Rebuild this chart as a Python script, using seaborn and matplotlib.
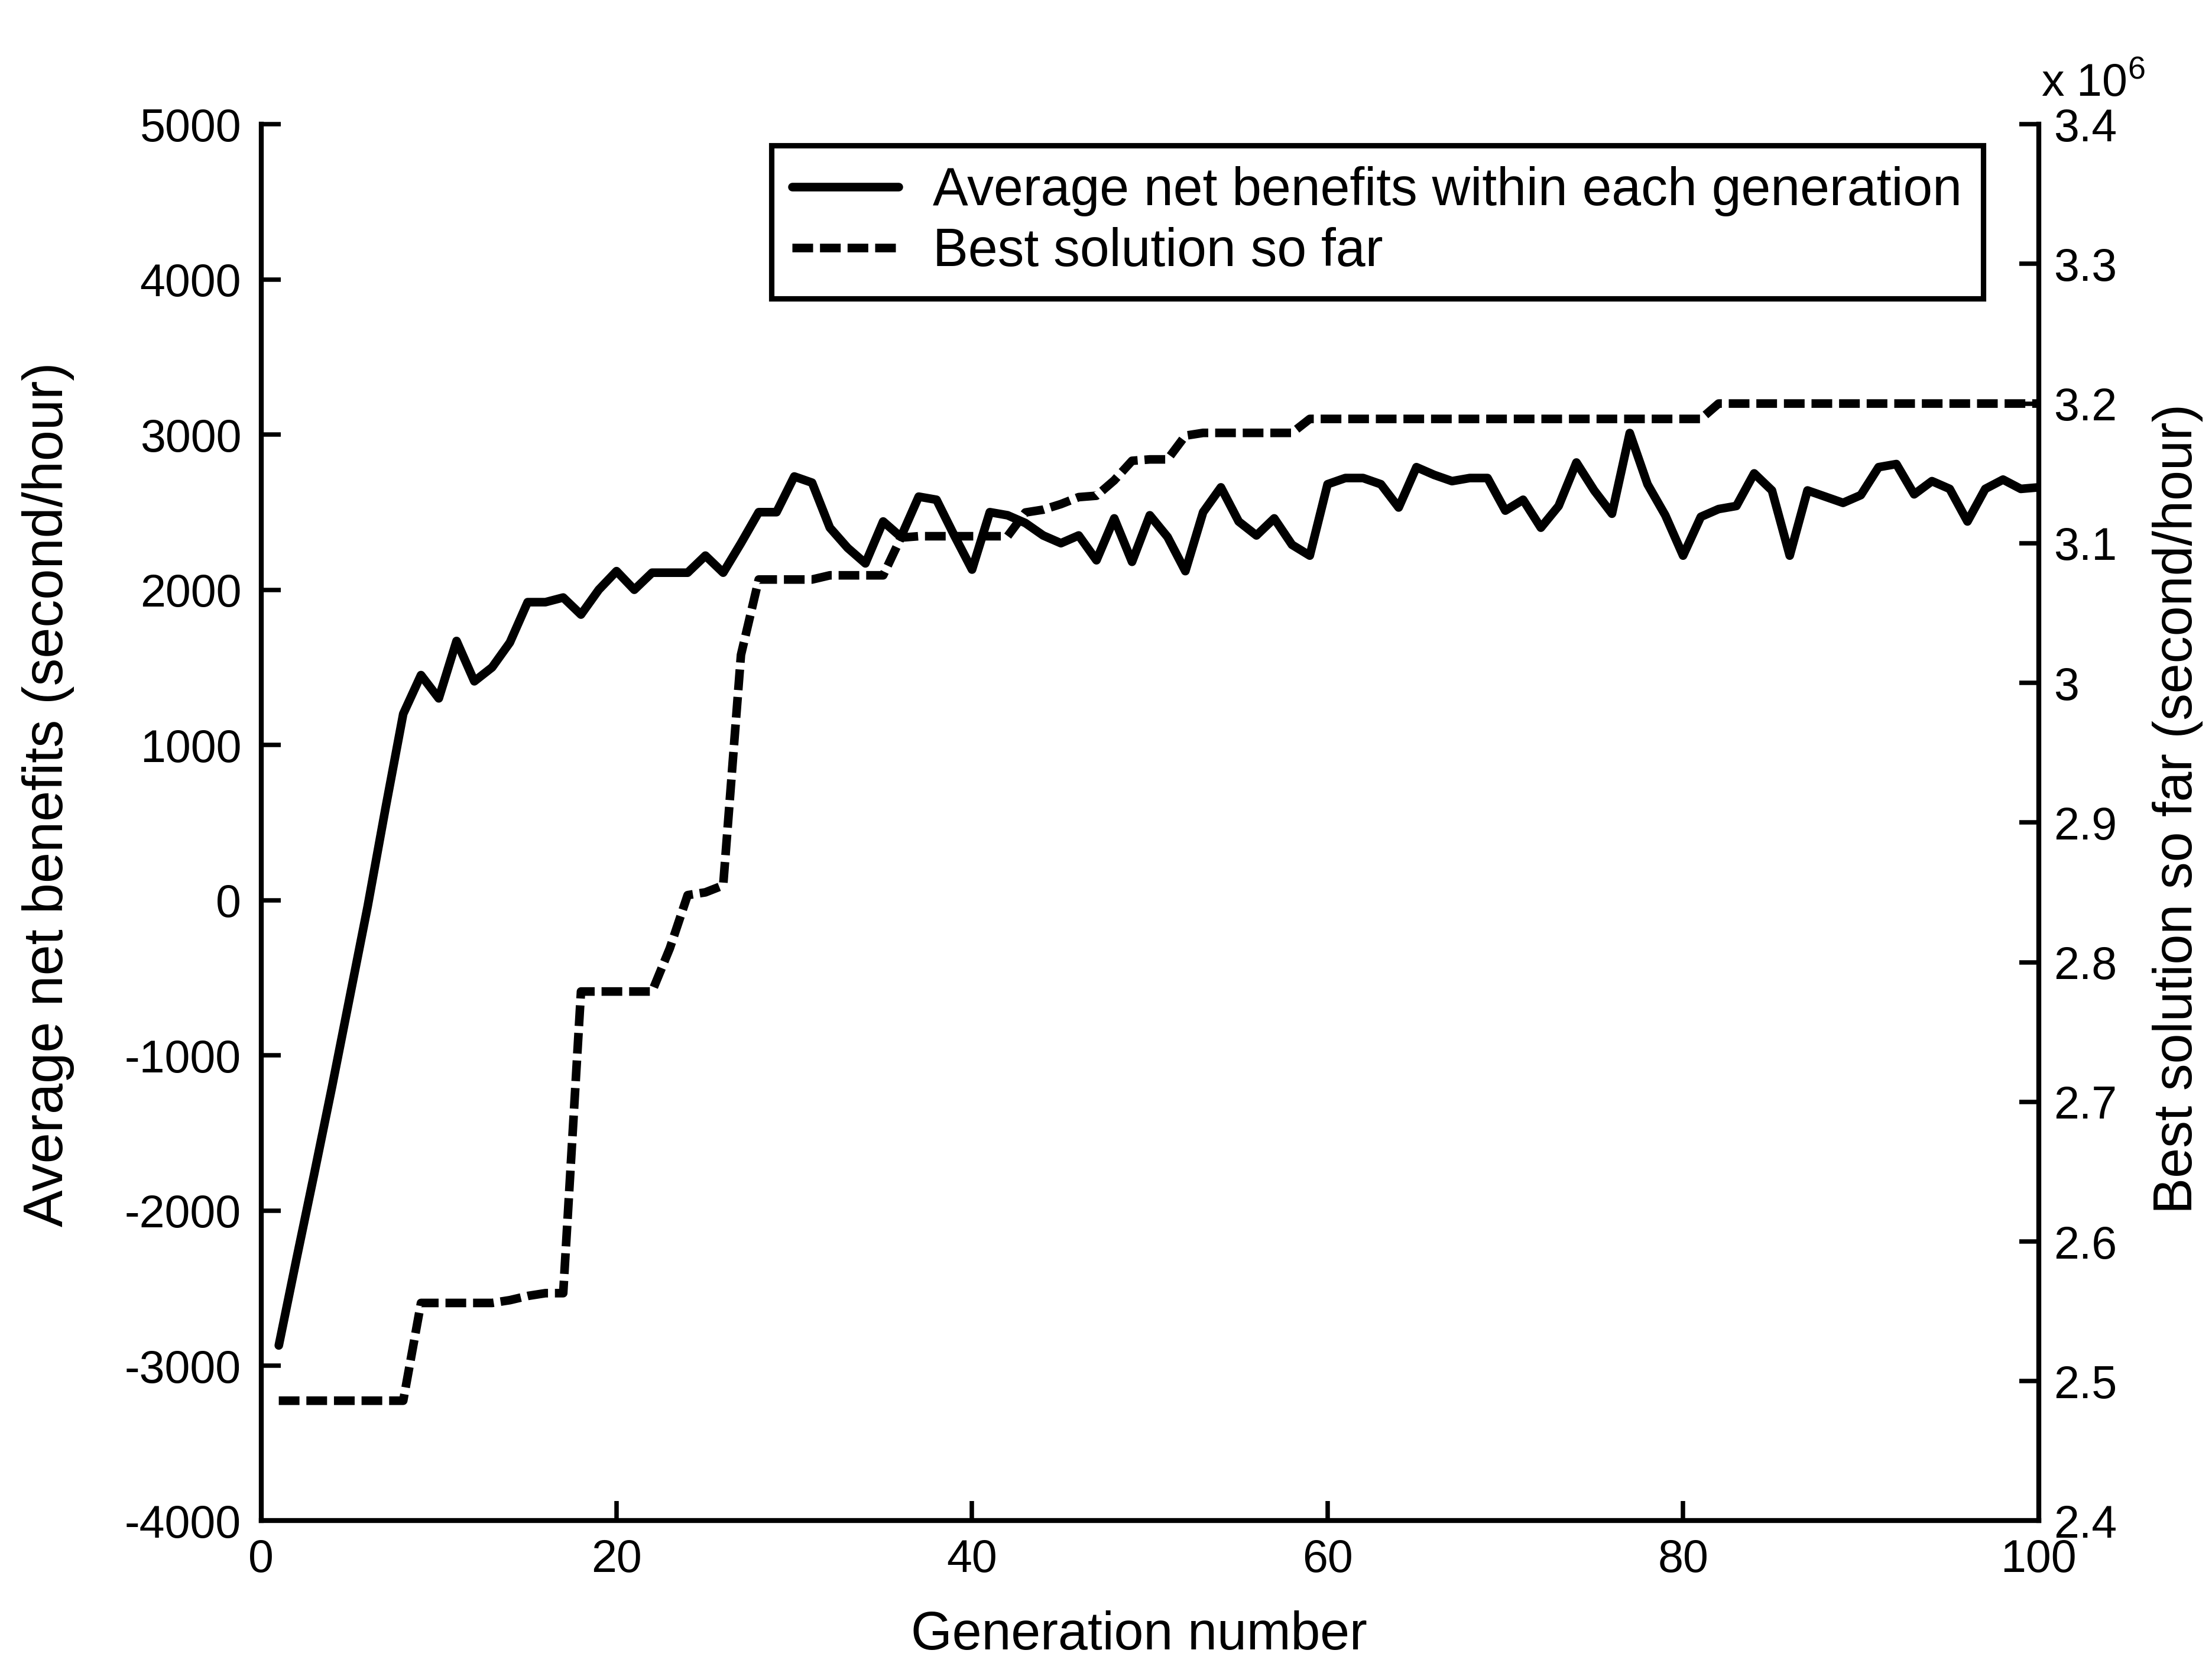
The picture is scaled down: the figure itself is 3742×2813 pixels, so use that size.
import matplotlib
matplotlib.use("Agg")
import matplotlib.pyplot as plt
import numpy as np
import pandas as pd
import seaborn as sns
from matplotlib.ticker import FuncFormatter, MultipleLocator

# ---------------- data ----------------
generations = list(range(1, 101))

avg_net_benefit = [
    -2870, -2310, -1760, -1200, -620, -40, 590, 1200, 1450, 1300,
    1670, 1410, 1500, 1660, 1920, 1920, 1950, 1840, 2000, 2120,
    2000, 2110, 2110, 2110, 2220, 2110, 2300, 2500, 2500, 2730,
    2690, 2400, 2270, 2170, 2440, 2340, 2600, 2580, 2350, 2130,
    2500, 2480, 2430, 2350, 2300, 2350, 2190, 2460, 2180, 2480,
    2340, 2120, 2500, 2660, 2440, 2350, 2460, 2290, 2220, 2680,
    2720, 2720, 2680, 2530, 2790, 2740, 2700, 2720, 2720, 2510,
    2580, 2400, 2540, 2820, 2640, 2490, 3010, 2680, 2480, 2220,
    2470, 2520, 2540, 2750, 2640, 2220, 2640, 2600, 2560, 2610,
    2790, 2810, 2615, 2700, 2650, 2440, 2650, 2710, 2650, 2660,
]

# best solution so far, in units of 10^6
best_so_far_e6 = [
    2.486, 2.486, 2.486, 2.486, 2.486, 2.486, 2.486, 2.486, 2.556, 2.556,
    2.556, 2.556, 2.556, 2.558, 2.561, 2.563, 2.563, 2.779, 2.779, 2.779,
    2.779, 2.779, 2.810, 2.848, 2.850, 2.855, 3.020, 3.074, 3.074, 3.074,
    3.074, 3.077, 3.077, 3.077, 3.077, 3.104, 3.105, 3.105, 3.105, 3.105,
    3.105, 3.105, 3.122, 3.124, 3.128, 3.133, 3.134, 3.145, 3.159, 3.160,
    3.160, 3.177, 3.179, 3.179, 3.179, 3.179, 3.179, 3.179, 3.189, 3.189,
    3.189, 3.189, 3.189, 3.189, 3.189, 3.189, 3.189, 3.189, 3.189, 3.189,
    3.189, 3.189, 3.189, 3.189, 3.189, 3.189, 3.189, 3.189, 3.189, 3.189,
    3.189, 3.200, 3.200, 3.200, 3.200, 3.200, 3.200, 3.200, 3.200, 3.200,
    3.200, 3.200, 3.200, 3.200, 3.200, 3.200, 3.200, 3.200, 3.200, 3.200,
]

label_avg = "Average net benefits within each generation"
label_best = "Best solution so far"
x_label = "Generation number"
y_label_left = "Average net benefits (second/hour)"
y_label_right = "Best solution so far (second/hour)"

# ---------------- style ----------------
sns.set_theme(style="ticks")
plt.rcParams["font.family"] = ["Liberation Sans", "DejaVu Sans"]
plt.rcParams["axes.unicode_minus"] = False
plt.rcParams["mathtext.fontset"] = "custom"
plt.rcParams["mathtext.rm"] = "Liberation Sans"
plt.rcParams["mathtext.it"] = "Liberation Sans"

df = pd.DataFrame({
    "generation": generations,
    "avg": avg_net_benefit,
    "best": best_so_far_e6,
})

fig = plt.figure(figsize=(3742 / 300, 2813 / 300), dpi=300)
fig.patch.set_facecolor("white")
ax = fig.add_axes([0.118, 0.0855, 0.8036, 0.8398])
ax2 = ax.twinx()

LW = 3.5
sns.lineplot(data=df, x="generation", y="avg", ax=ax, color="black",
             linewidth=LW, label=label_avg, legend=False)
sns.lineplot(data=df, x="generation", y="best", ax=ax2, color="black",
             linewidth=LW, linestyle=(0, (2.4, 0.8)), label=label_best,
             legend=False)
for ln in ax2.lines:
    ln.set_dash_capstyle("butt")

# ---------------- axes ----------------
ax.set_xlim(0, 100)
ax.set_ylim(-4000, 5000)
ax2.set_ylim(2.4, 3.4)
ax.xaxis.set_major_locator(MultipleLocator(20))
ax.yaxis.set_major_locator(MultipleLocator(1000))
ax2.yaxis.set_major_locator(MultipleLocator(0.1))
ax2.yaxis.set_major_formatter(FuncFormatter(lambda v, p: "%g" % round(v, 3)))
ax.xaxis.set_major_formatter(FuncFormatter(lambda v, p: "%g" % v))
ax.yaxis.set_major_formatter(FuncFormatter(lambda v, p: "%g" % v))

for a in (ax, ax2):
    a.set_facecolor("none")
    a.spines["top"].set_visible(False)
    for s in ("left", "right", "bottom"):
        a.spines[s].set_color("black")
        a.spines[s].set_linewidth(2.0)
    a.grid(False)

ax.spines["right"].set_visible(False)
ax2.spines["left"].set_visible(False)
ax2.spines["bottom"].set_visible(False)

tick_fs = 18.5
ax.tick_params(axis="both", direction="in", length=8, width=1.8,
               colors="black", labelsize=tick_fs, top=False, right=False)
ax.tick_params(axis="y", pad=8)
ax.tick_params(axis="x", pad=7)
ax2.tick_params(axis="y", direction="in", length=8, width=1.8,
                colors="black", labelsize=tick_fs, left=False, right=True,
                pad=6)

ax.set_xlabel(x_label, fontsize=21.5, color="black")
ax.set_ylabel(y_label_left, fontsize=22.5, color="black")
ax2.set_ylabel(y_label_right, fontsize=22, color="black")
ax.xaxis.set_label_coords(0.494, -0.064)
ax.yaxis.set_label_coords(-0.105, 0.52)
ax2.yaxis.set_label_coords(1.064, 0.51)

ax2.text(1.0015, 1.020, r"x 10$^{6}$", transform=ax2.transAxes,
         ha="left", va="baseline", fontsize=18.5, color="black")

handles = [ax.lines[0], ax2.lines[0]]
leg = ax2.legend(handles, [label_avg, label_best], loc="upper left",
                 bbox_to_anchor=(0.287, 0.985), frameon=True, fancybox=False,
                 shadow=False, framealpha=1, edgecolor="black", fontsize=21.5,
                 handlelength=2.0, handletextpad=0.65, borderpad=0.4,
                 labelspacing=0.2, borderaxespad=0)
leg.get_frame().set_linewidth(2.2)
for t in leg.get_texts():
    t.set_color("black")

fig.savefig("out.png", dpi=300, facecolor="white")
